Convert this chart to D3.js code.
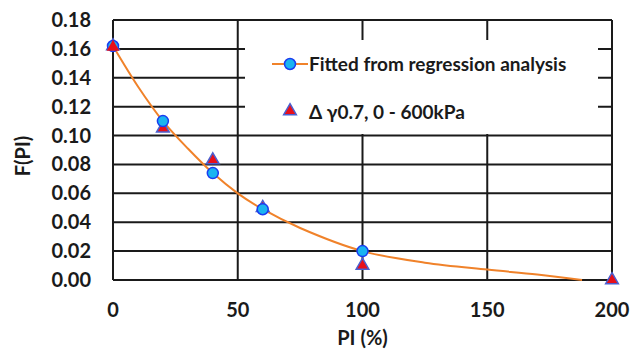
<!DOCTYPE html>
<html>
<head>
<meta charset="utf-8">
<script src="https://cdn.jsdelivr.net/npm/d3@7"></script>
<style>
  body { margin: 0; background: #fff; }
  text { font-family: Lato, "Open Sans", sans-serif; font-weight: bold; fill: #1a1a1a; }
</style>
</head>
<body>
<div id="chart"></div>
<script>
// data
var fitPI = [0, 20, 40, 60, 100];
var fitF = [0.162, 0.110, 0.074, 0.049, 0.020];
var curvePI = [0, 10, 20, 30, 40, 50, 60, 75, 100, 125, 150, 170, 188];
var curveF = [0.162, 0.134, 0.110, 0.091, 0.074, 0.060, 0.049, 0.036, 0.020, 0.0120, 0.0072, 0.0038, 0.0];
var obsPI = [0, 20, 40, 60, 100, 200];
var obsF = [0.162, 0.105, 0.083, 0.050, 0.010, 0.000];
var xTicks = [0, 50, 100, 150, 200];
var yTicks = [0, 0.02, 0.04, 0.06, 0.08, 0.10, 0.12, 0.14, 0.16, 0.18];
var legendLabels = ["Fitted from regression analysis", "\u0394 \u03b30.7, 0 - 600kPa"];

var margin = {top: 20, right: 20, bottom: 69, left: 113},
    width = 612 - margin.left,
    height = 280 - margin.top;

var svg = d3.select("#chart")
  .append("svg")
    .attr("width", 632)
    .attr("height", 349)
  .append("g")
    .attr("transform", "translate(" + margin.left + "," + margin.top + ")");

var x = d3.scaleLinear().domain([0, 200]).range([0, width]);
var y = d3.scaleLinear().domain([0, 0.18]).range([height, 0]);

// grid
svg.selectAll(".hgrid")
  .data(yTicks)
  .enter().append("line")
    .attr("x1", 0).attr("x2", width)
    .attr("y1", function(d) { return y(d); })
    .attr("y2", function(d) { return y(d); })
    .attr("stroke", "#1a1a1a").attr("stroke-width", 2);

svg.selectAll(".vgrid")
  .data(xTicks)
  .enter().append("line")
    .attr("x1", function(d) { return x(d); })
    .attr("x2", function(d) { return x(d); })
    .attr("y1", 0).attr("y2", height)
    .attr("stroke", "#1a1a1a").attr("stroke-width", 2);

// tick labels
svg.selectAll(".ylab")
  .data(yTicks)
  .enter().append("text")
    .attr("x", -22)
    .attr("y", function(d) { return y(d); })
    .attr("dy", "0.35em")
    .attr("text-anchor", "end")
    .style("font-size", "20px")
    .text(function(d) { return d3.format(".2f")(d); });

svg.selectAll(".xlab")
  .data(xTicks)
  .enter().append("text")
    .attr("x", function(d) { return x(d); })
    .attr("y", height + 30)
    .attr("dy", "0.35em")
    .attr("text-anchor", "middle")
    .style("font-size", "20px")
    .text(function(d) { return d; });

// axis titles
svg.append("text")
  .attr("x", x(100))
  .attr("y", height + 58)
  .attr("dy", "0.35em")
  .attr("text-anchor", "middle")
  .style("font-size", "20px")
  .text("PI (%)");

svg.append("text")
  .attr("transform", "translate(-90," + (156 - margin.top) + ") rotate(-90)")
  .attr("dy", "0.35em")
  .attr("text-anchor", "middle")
  .style("font-size", "20px")
  .text("F(PI)");

// legend box (covers the grid)
var lg = svg.append("g").attr("transform", "translate(" + (245 - margin.left) + "," + (40 - margin.top) + ")");
lg.append("rect")
  .attr("width", 353).attr("height", 94)
  .attr("fill", "#fff");

// fitted curve
var curve = curvePI.map(function(d, i) { return [d, curveF[i]]; });
svg.append("path")
  .datum(curve)
  .attr("fill", "none")
  .attr("stroke", "#f0822a")
  .attr("stroke-width", 2)
  .attr("d", d3.line()
    .curve(d3.curveCatmullRom.alpha(0.5))
    .x(function(d) { return x(d[0]); })
    .y(function(d) { return y(d[1]); }));

var tri = d3.symbol().type(d3.symbolTriangle).size(70);

// observed triangles
svg.selectAll(".obs")
  .data(obsPI)
  .enter().append("path")
    .attr("d", tri)
    .attr("transform", function(d, i) { return "translate(" + x(d) + "," + y(obsF[i]) + ")"; })
    .attr("fill", "#e8101a")
    .attr("stroke", "#4a5fd0")
    .attr("stroke-width", 1.5);

// fitted circles
svg.selectAll(".fit")
  .data(fitPI)
  .enter().append("circle")
    .attr("cx", function(d) { return x(d); })
    .attr("cy", function(d, i) { return y(fitF[i]); })
    .attr("r", 5.5)
    .attr("fill", "#1ab4f0")
    .attr("stroke", "#1a3cf0")
    .attr("stroke-width", 1.5);

// the triangle at 0 sits on top in the picture
svg.append("path")
  .attr("d", tri)
  .attr("transform", "translate(" + x(obsPI[0]) + "," + (y(obsF[0]) + 1) + ")")
  .attr("fill", "#e8101a");

// legend items
lg.append("line")
  .attr("x1", 27).attr("x2", 63)
  .attr("y1", 24).attr("y2", 24)
  .attr("stroke", "#f0822a").attr("stroke-width", 2);
lg.append("circle")
  .attr("cx", 45).attr("cy", 24).attr("r", 5.5)
  .attr("fill", "#1ab4f0").attr("stroke", "#1a3cf0").attr("stroke-width", 1.5);
lg.append("path")
  .attr("d", tri)
  .attr("transform", "translate(45,71)")
  .attr("fill", "#e8101a").attr("stroke", "#4a5fd0").attr("stroke-width", 1.5);

lg.selectAll(".ltext")
  .data(legendLabels)
  .enter().append("text")
    .attr("x", 64)
    .attr("y", function(d, i) { return i === 0 ? 24 : 72; })
    .attr("dy", "0.35em")
    .style("font-size", "19px")
    .text(function(d) { return d; });
</script>
</body>
</html>
